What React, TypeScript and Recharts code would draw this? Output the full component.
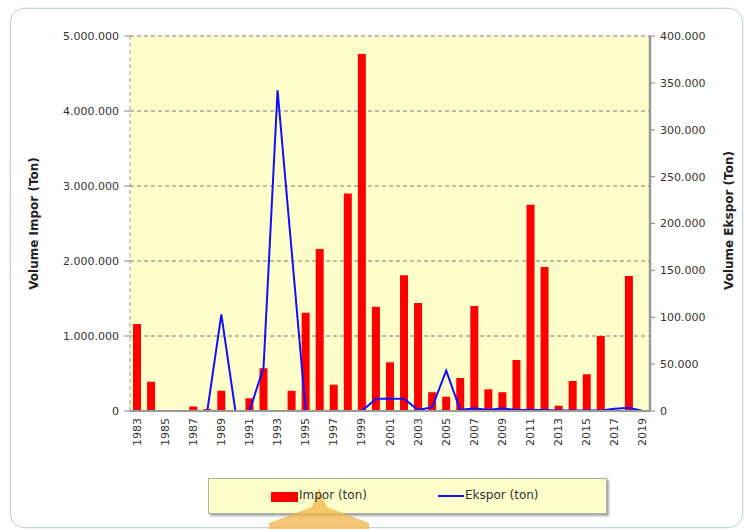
import React from 'react';
import { ComposedChart, Bar, Line, XAxis, YAxis, CartesianGrid } from 'recharts';

const years = ['1983','1984','1985','1986','1987','1988','1989','1990','1991','1992','1993','1994','1995','1996','1997','1998','1999','2000','2001','2002','2003','2004','2005','2006','2007','2008','2009','2010','2011','2012','2013','2014','2015','2016','2017','2018','2019'];

const impor = [1160000, 390000, 8000, 8000, 60000, 25000, 270000, 0, 170000, 570000, 10000, 270000, 1310000, 2160000, 350000, 2900000, 4760000, 1390000, 650000, 1810000, 1440000, 250000, 190000, 440000, 1400000, 290000, 250000, 680000, 2750000, 1920000, 70000, 400000, 490000, 1000000, 0, 1800000, 10000];

const ekspor = [0, 0, 0, 0, 0, 0, 103000, 0, 0, 46000, 342000, 171000, 0, 0, 0, 0, 0, 13000, 13000, 13000, 1000, 4000, 43000, 1000, 3000, 1000, 3000, 1000, 1000, 1000, 500, 500, 500, 500, 2500, 3500, 0];

const leftTicks = [0, 1000000, 2000000, 3000000, 4000000, 5000000];
const rightTicks = [0, 50000, 100000, 150000, 200000, 250000, 300000, 350000, 400000];

const data = years.map((y, i) => ({ year: y, impor: impor[i], ekspor: ekspor[i] }));

const fmt = (n: number) => String(n).replace(/\B(?=(\d{3})+(?!\d))/g, '.');

const FONT = '"DejaVu Sans", Verdana, sans-serif';

const XTick = (props: any) => {
  const { x, y, payload } = props;
  return (
    <text x={x} y={y} transform={`rotate(-90, ${x}, ${y})`} textAnchor="end" dominantBaseline="central"
      fontFamily={FONT} fontSize={11} fill="#333">{payload.value}</text>
  );
};

export default function App() {
  return (
    <div style={{ position: 'absolute', left: 0, top: 0, width: 744, height: 529, background: '#fff', overflow: 'hidden' }}>
      <div style={{ position: 'absolute', left: 10, top: 8, width: 731, height: 518, border: '1px solid #c5d2d2', borderRadius: 14, boxShadow: '0 0 2px rgba(0,0,0,0.15)' }} />
      <div style={{ position: 'absolute', left: 0, top: 0 }}>
        <ComposedChart width={744} height={529} data={data} margin={{ top: 36, right: 0, bottom: 73, left: 0 }} barSize={8}>
          <CartesianGrid yAxisId="left" vertical={false} stroke="#7a7a7a" strokeDasharray="4 3" fill="#FFFFCC" />
          <XAxis dataKey="year" interval={1} tick={<XTick />} tickLine={false} tickSize={6} tickMargin={1}
            axisLine={{ stroke: '#999', strokeWidth: 2 }} height={45} />
          <YAxis yAxisId="left" orientation="left" width={130} domain={[0, 5000000]} ticks={leftTicks}
            tickFormatter={fmt} tick={{ fontFamily: FONT, fontSize: 11, fill: '#333' }}
            axisLine={{ stroke: '#999', strokeDasharray: '4 3' }} tickLine={{ stroke: '#888' }} tickSize={6} tickMargin={5}
            label={{ value: 'Volume Impor (Ton)', angle: -90, position: 'center', dx: -31, style: { fontFamily: FONT, fontSize: 12, fontWeight: 'bold', fill: '#222' } }} />
          <YAxis yAxisId="right" orientation="right" width={94} domain={[0, 400000]} ticks={rightTicks}
            tickFormatter={fmt} tick={{ fontFamily: FONT, fontSize: 11, fill: '#333' }}
            axisLine={{ stroke: '#9a9a9a', strokeWidth: 2.5 }} tickLine={{ stroke: '#888' }} tickSize={5} tickMargin={5}
            label={{ value: 'Volume Ekspor (Ton)', angle: -90, position: 'center', dx: 32, dy: -3, style: { fontFamily: FONT, fontSize: 12, fontWeight: 'bold', fill: '#222' } }} />
          <Bar yAxisId="left" dataKey="impor" fill="#FF0000" isAnimationActive={false} />
          <Line yAxisId="right" dataKey="ekspor" type="linear" stroke="#1010FF" strokeWidth={2} dot={false} isAnimationActive={false} />
        </ComposedChart>
      </div>
      <div style={{ position: 'absolute', left: 208, top: 478, width: 397, height: 34, background: '#FFFFCC', border: '1px solid #aab0a8', boxShadow: '2px 2px 2px rgba(0,0,0,0.35)' }}>
        <svg width={397} height={60} style={{ position: 'absolute', left: 0, top: 0, overflow: 'visible' }}>
          <polygon points="110,9 103,28 60,44 60,60 160,60 160,44 118,28" fill="#F2B64A" opacity={0.75} />
        </svg>
        <div style={{ position: 'absolute', left: 62, top: 13, width: 27, height: 10, background: '#FF0000' }} />
        <div style={{ position: 'absolute', left: 90, top: 9, fontFamily: FONT, fontSize: 12, color: '#333', whiteSpace: 'nowrap' }}>Impor (ton)</div>
        <div style={{ position: 'absolute', left: 229, top: 16, width: 26, height: 2, background: '#1010FF' }} />
        <div style={{ position: 'absolute', left: 256, top: 9, fontFamily: FONT, fontSize: 12, color: '#333', whiteSpace: 'nowrap' }}>Ekspor (ton)</div>
      </div>
    </div>
  );
}
